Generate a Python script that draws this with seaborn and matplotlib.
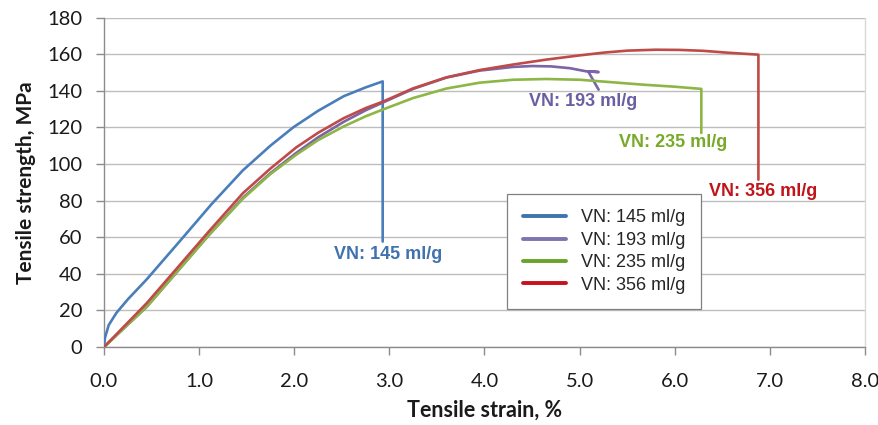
import matplotlib
matplotlib.use("Agg")
import matplotlib.pyplot as plt
import seaborn as sns
import pandas as pd

# Stress-strain curves for four viscosity numbers (VN)
series_names = ["VN: 145 ml/g", "VN: 193 ml/g", "VN: 235 ml/g", "VN: 356 ml/g"]

strain_145 = [0.0, 0.01, 0.05, 0.13, 0.25, 0.45, 0.80, 1.13, 1.46, 1.75, 1.99, 2.25, 2.52, 2.75, 2.93, 2.93]
stress_145 = [0.0, 5.0, 12.0, 18.6, 26.0, 37.0, 58.0, 78.0, 96.5, 110.0, 120.0, 129.0, 137.0, 141.8, 145.1, 57.6]

strain_193 = [0.0, 0.45, 0.80, 1.10, 1.46, 1.75, 2.02, 2.25, 2.52, 2.75, 2.93, 3.25, 3.60, 3.95, 4.30,
              4.50, 4.70, 4.90, 5.07, 5.20, 5.09, 5.20]
stress_193 = [0.0, 22.0, 43.0, 61.0, 81.5, 95.0, 106.0, 114.5, 123.0, 129.3, 133.5, 141.0, 147.2, 151.0, 153.0,
              153.5, 153.3, 152.3, 150.6, 150.2, 150.6, 140.6]

strain_235 = [0.0, 0.45, 0.80, 1.10, 1.46, 1.75, 2.02, 2.25, 2.52, 2.75, 2.93, 3.25, 3.60, 3.95, 4.30,
              4.65, 5.00, 5.30, 5.67, 6.00, 6.28, 6.28]
stress_235 = [0.0, 22.0, 43.0, 61.0, 81.0, 94.5, 105.0, 113.0, 120.5, 126.0, 129.7, 136.0, 141.2, 144.4, 146.0,
              146.4, 146.0, 144.8, 143.3, 142.2, 141.0, 116.9]

strain_356 = [0.0, 0.45, 0.80, 1.10, 1.46, 1.75, 2.02, 2.25, 2.52, 2.75, 2.93, 3.25, 3.60, 3.95, 4.30,
              4.65, 5.00, 5.25, 5.50, 5.80, 6.05, 6.30, 6.55, 6.88, 6.88]
stress_356 = [0.0, 24.0, 45.0, 63.0, 84.0, 97.5, 109.0, 117.0, 125.0, 130.5, 134.0, 141.3, 147.3, 151.3, 154.3,
              157.0, 159.3, 160.8, 161.9, 162.4, 162.3, 161.8, 160.8, 159.7, 91.4]

# End-of-curve annotations: (x, y) in data units
label_x = [2.99, 5.04, 5.98, 6.93]
label_y = [50.3, 134.0, 111.6, 84.8]

x_ticks = [0, 1, 2, 3, 4, 5, 6, 7, 8]
y_ticks = [0, 20, 40, 60, 80, 100, 120, 140, 160, 180]

line_colors = ["#4A7EBB", "#7B64A8", "#8DB646", "#BE4B48"]
text_colors = ["#3F72AF", "#6A5FA3", "#78AA2A", "#C0141A"]
legend_colors = ["#3F73AE", "#7E74B0", "#6AA329", "#C8101E"]

frames = []
for name, xs, ys in zip(series_names,
                        [strain_145, strain_193, strain_235, strain_356],
                        [stress_145, stress_193, stress_235, stress_356]):
    frames.append(pd.DataFrame({"strain": xs, "stress": ys, "series": name}))
data = pd.concat(frames, ignore_index=True)

sns.set_style("white")
plt.rcParams["font.family"] = ["Lato", "DejaVu Sans"]

fig = plt.figure(figsize=(8.79, 4.25), dpi=100)
ax = fig.add_axes([0.1183, 0.1835, 0.8657, 0.7753])

sns.lineplot(data=data, x="strain", y="stress", hue="series", hue_order=series_names,
             palette=line_colors, sort=False, estimator=None, linewidth=1.9, ax=ax, zorder=3)

ax.set_xlim(0, 8)
ax.set_ylim(0, 180)
ax.set_xticks(x_ticks)
ax.set_xticklabels([f"{v:.1f}" for v in x_ticks])
ax.set_yticks(y_ticks)
ax.set_yticklabels([str(v) for v in y_ticks])

ax.grid(axis="y", color="#BDBDBD", linewidth=1.0, zorder=0)
ax.grid(axis="x", visible=False)
for side in ["left", "bottom"]:
    ax.spines[side].set_color("#8C8C8C")
    ax.spines[side].set_linewidth(1.0)
ax.spines["top"].set_visible(False)
ax.spines["right"].set_color("#D9D9D9")
ax.spines["right"].set_linewidth(1.0)

ax.tick_params(axis="both", direction="out", length=5.5, width=1.0, color="#8C8C8C",
               labelsize=14.5, labelcolor="#1A1A1A", left=True, bottom=True)
ax.tick_params(axis="y", pad=10)
ax.tick_params(axis="x", pad=13)

ax.set_xlabel("Tensile strain, %", fontsize=15.5, fontweight="bold", color="#1A1A1A", labelpad=7)
ax.set_ylabel("Tensile strength, MPa", fontsize=15, fontweight="bold", color="#1A1A1A", labelpad=8)

for name, x, y, c in zip(series_names, label_x, label_y, text_colors):
    ax.text(x, y, name, ha="center", va="center", fontsize=13, fontweight="bold",
            color=c, family=["Liberation Sans", "DejaVu Sans"], zorder=4)

leg = ax.legend(loc="upper left", bbox_to_anchor=(0.530, 0.464), borderaxespad=0,
                frameon=True, fancybox=False, edgecolor="#808080", framealpha=1,
                prop={"family": ["Liberation Sans", "DejaVu Sans"], "size": 13},
                handlelength=2.4, handletextpad=0.85, labelspacing=0.3,
                borderpad=0.85, title=None)
leg.get_frame().set_linewidth(0.9)
for h, c in zip(leg.legend_handles, legend_colors):
    h.set_color(c)
    h.set_linewidth(2.8)

fig.savefig("out.png", dpi=100)
